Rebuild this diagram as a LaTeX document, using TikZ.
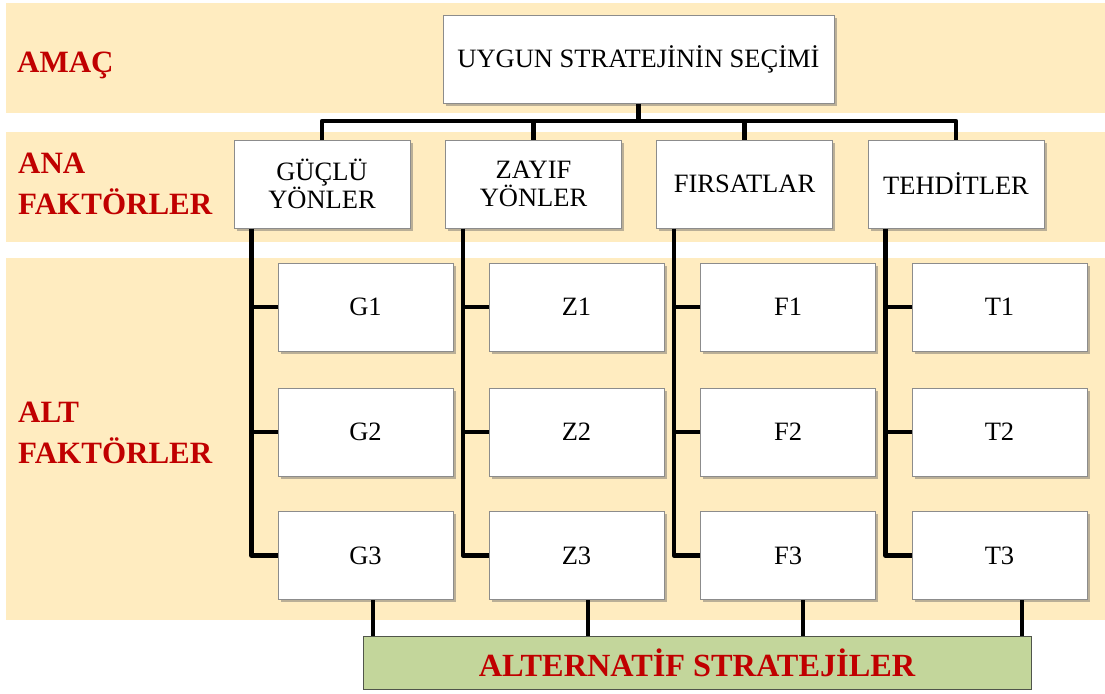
\documentclass[tikz,border=0pt]{standalone}
\usepackage{fontspec}
\setmainfont{Liberation Serif}
\usetikzlibrary{shadows,calc}
\definecolor{bandfill}{RGB}{255,236,192}
\definecolor{labelred}{RGB}{192,0,0}
\definecolor{altfill}{RGB}{195,214,155}
\definecolor{altdraw}{RGB}{80,85,75}
\definecolor{boxdraw}{RGB}{140,140,140}
\tikzset{
  band/.style={fill=bandfill, draw=none},
  box/.style={draw=boxdraw, line width=1pt, fill=white, align=center,
    font=\fontsize{26.5}{28}\selectfont, inner sep=0pt,
    drop shadow={shadow xshift=2.5pt, shadow yshift=-2.5pt, opacity=0.45, fill=black!60}},
  anabox/.style={box, minimum width=176pt, minimum height=88pt},
  altbox/.style={box, minimum width=175pt, minimum height=88pt},
  level/.style={text=labelred, font=\bfseries\fontsize{31}{41.5}\selectfont, align=left, inner sep=0pt},
  conn/.style={line width=4.5pt, line join=round}
}
\begin{document}
\begin{tikzpicture}[x=1pt,y=-1pt]
\useasboundingbox (0,0) rectangle (1105,693);
% background bands for the three levels
\fill[band] (6,3) rectangle (1105,113);
\fill[band] (6,132) rectangle (1105,242);
\fill[band] (6,258) rectangle (1105,620);

% level labels
\node[level, anchor=base west] (lamac) at (17,72) {AMAÇ};
\node[level, anchor=west] (lana) at (18,184) {ANA\\FAKTÖRLER};
\node[level, anchor=west] (lalt) at (18,433) {ALT\\FAKTÖRLER};

% goal
\node[box, minimum width=391pt, minimum height=87pt] (goal) at (638.5,59.5) {UYGUN STRATEJİNİN SEÇİMİ};

% main factors
\node[anabox] (gy) at (322,184) {GÜÇLÜ\\YÖNLER};
\node[anabox] (zy) at (533.5,184) {ZAYIF\\YÖNLER};
\node[anabox] (fr) at (744.5,184) {FIRSATLAR};
\node[anabox] (th) at (956,184) {TEHDİTLER};

% sub factors
\foreach \c/\L/\x in {g/G/365.5, z/Z/576.5, f/F/788, t/T/999.5}{
  \foreach \r/\y in {1/307, 2/432, 3/555.5}{
    \node[altbox] (\c\r) at (\x,\y) {\L\r};
  }
}

% alternatives
\node[draw=altdraw, line width=1pt, fill=altfill, minimum width=668pt, minimum height=53pt,
      text=labelred, font=\bfseries\fontsize{32.3}{36}\selectfont] (alt) at (697,662.5) {ALTERNATİF STRATEJİLER};

% goal to main factors
\coordinate (bus) at (0,121);
\draw[conn] (goal.south) -- (goal.south |- bus);
\draw[conn] (gy.north) |- (bus -| th.north) -- (th.north);
\draw[conn] (zy.north) -- (zy.north |- bus);
\draw[conn] (fr.north) -- (fr.north |- bus);

% main factors to sub factors
\foreach \p/\c in {gy/g, zy/z, fr/f, th/t}{
  \coordinate (\c tr) at ($(\p.south west)+(18,0)$);
  \draw[conn] (\c tr) |- (\c 3.west);
  \draw[conn] (\c 1.west) -- (\c 1.west -| \c tr);
  \draw[conn] (\c 2.west) -- (\c 2.west -| \c tr);
}

% sub factors to alternatives
\draw[conn] ([xshift=7.5]g3.south) -- ([xshift=7.5]g3.south |- alt.north);
\draw[conn] ([xshift=11.5]z3.south) -- ([xshift=11.5]z3.south |- alt.north);
\draw[conn] ([xshift=15]f3.south) -- ([xshift=15]f3.south |- alt.north);
\draw[conn] ([xshift=22.5]t3.south) -- ([xshift=22.5]t3.south |- alt.north);
\end{tikzpicture}
\end{document}
